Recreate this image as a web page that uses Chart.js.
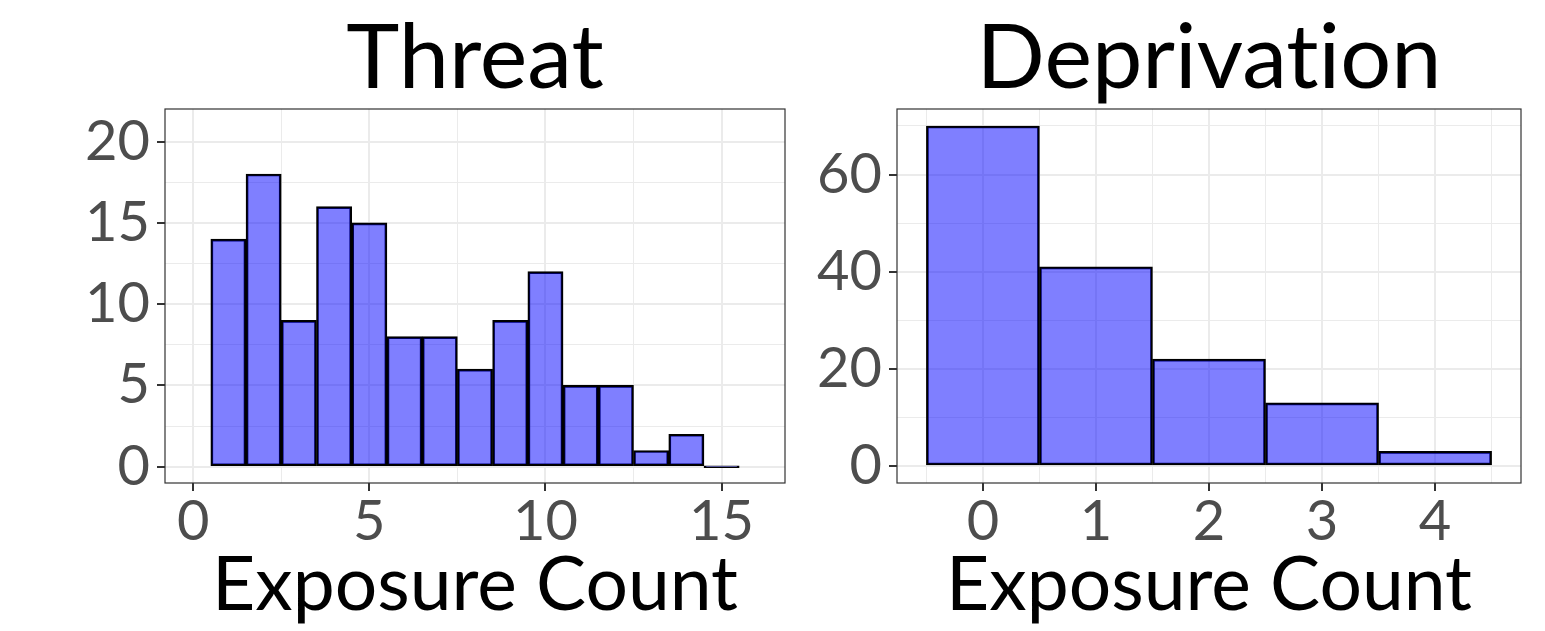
<!DOCTYPE html>
<html>
<head>
<meta charset="utf-8">
<script src="https://cdn.jsdelivr.net/npm/chart.js@4.4.1/dist/chart.umd.min.js"></script>
<style>
  html, body { margin: 0; padding: 0; background: #ffffff; }
  .panel { position: absolute; top: 0; height: 631px; }
  #leftBox { left: 0; width: 790px; }
  #rightBox { left: 790px; width: 755px; }
</style>
</head>
<body>
<div class="panel" id="leftBox"><canvas id="threatChart"></canvas></div>
<div class="panel" id="rightBox"><canvas id="deprivationChart"></canvas></div>
<script>
// histogram data
var threatBins = [1, 2, 3, 4, 5, 6, 7, 8, 9, 10, 11, 12, 13, 14, 15];
var threatCounts = [14, 18, 9, 16, 15, 8, 8, 6, 9, 12, 5, 5, 1, 2, 0];
var threatXTicks = [0, 5, 10, 15];
var threatYTicks = [0, 5, 10, 15, 20];

var deprivationBins = [0, 1, 2, 3, 4];
var deprivationCounts = [70, 41, 22, 13, 3];
var deprivationXTicks = [0, 1, 2, 3, 4];
var deprivationYTicks = [0, 20, 40, 60];

Chart.defaults.font.family = 'Lato';
Chart.defaults.animation = false;

var panelBorder = {
    id: 'panelBorder',
    afterDraw: function (chart) {
        var a = chart.chartArea, ctx = chart.ctx;
        ctx.save();
        ctx.strokeStyle = '#333333';
        ctx.lineWidth = 1.2;
        ctx.strokeRect(a.left, a.top, a.right - a.left, a.bottom - a.top);
        ctx.restore();
    }
};

function isMajor(list, v) {
    return list.indexOf(Math.round(v * 1000) / 1000) !== -1;
}

function gridFor(list) {
    return {
        offset: false,
        color: '#EBEBEB',
        lineWidth: function (c) { return c.tick && isMajor(list, c.tick.value) ? 2 : 1; },
        tickColor: function (c) { return c.tick && isMajor(list, c.tick.value) ? '#333333' : 'rgba(0,0,0,0)'; },
        tickWidth: 2,
        tickLength: 8
    };
}

function makeHist(canvasId, title, bins, counts, xTicks, yTicks, xr, yr, yStep, xStep, yWidth, rightPad) {
    return new Chart(document.getElementById(canvasId), {
        type: 'bar',
        data: {
            datasets: [{
                data: bins.map(function (b, i) { return {x: b, y: counts[i]}; }),
                backgroundColor: 'rgba(0,0,255,0.5)',
                borderColor: '#000000',
                borderWidth: 2,
                borderSkipped: false,
                barThickness: 'flex',
                barPercentage: 1,
                categoryPercentage: 1,
                minBarLength: 2
            }]
        },
        options: {
            responsive: true,
            maintainAspectRatio: false,
            layout: {padding: {left: 0, right: rightPad, top: 0, bottom: 0}},
            plugins: {
                legend: {display: false},
                tooltip: {enabled: false},
                title: {
                    display: true,
                    text: title,
                    fullSize: false,
                    color: '#000000',
                    font: {size: 90, weight: 'normal', lineHeight: 1},
                    padding: {top: 14, bottom: 5}
                }
            },
            scales: {
                x: {
                    type: 'linear',
                    offset: false,
                    min: xr[0],
                    max: xr[1],
                    grid: gridFor(xTicks),
                    border: {display: false},
                    ticks: {
                        stepSize: xStep,
                        includeBounds: false,
                        autoSkip: false,
                        maxRotation: 0,
                        maxTicksLimit: 30,
                        padding: 3,
                        color: '#4D4D4D',
                        font: {size: 56, lineHeight: 1},
                        callback: function (v) { return isMajor(xTicks, v) ? String(Math.round(v)) : ''; }
                    },
                    title: {
                        display: true,
                        text: 'Exposure Count',
                        color: '#000000',
                        font: {size: 75, lineHeight: 1},
                        padding: {top: 0, bottom: 8}
                    },
                    afterFit: function (s) { s.height = 148; }
                },
                y: {
                    type: 'linear',
                    min: yr[0],
                    max: yr[1],
                    grid: gridFor(yTicks),
                    border: {display: false},
                    ticks: {
                        stepSize: yStep,
                        includeBounds: false,
                        autoSkip: false,
                        maxTicksLimit: 30,
                        padding: 7,
                        color: '#4D4D4D',
                        font: {size: 56, lineHeight: 1},
                        callback: function (v) { return isMajor(yTicks, v) ? String(Math.round(v)) : ''; }
                    },
                    afterFit: function (s) { s.width = yWidth; }
                }
            }
        },
        plugins: [panelBorder]
    });
}

makeHist('threatChart', 'Threat', threatBins, threatCounts, threatXTicks, threatYTicks,
    [-0.8, 16.8], [-1, 22], 2.5, 2.5, 165, 5);
// zero-width non-joiner keeps Lato from drawing the "ti" ligature
makeHist('deprivationChart', 'Deprivat\u200Cion', deprivationBins, deprivationCounts, deprivationXTicks, deprivationYTicks,
    [-0.76, 4.76], [-3.5, 73.5], 10, 0.5, 107, 24);
</script>
</body>
</html>
